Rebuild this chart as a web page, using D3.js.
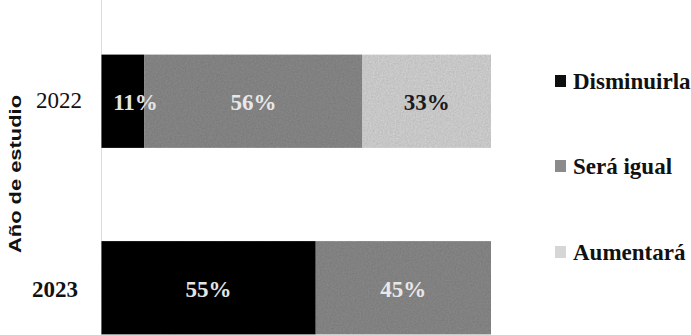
<!DOCTYPE html>
<html>
<head>
<meta charset="utf-8">
<script src="https://cdn.jsdelivr.net/npm/d3@7"></script>
<style>
  html, body { margin: 0; padding: 0; background: #fff; }
  svg { display: block; }
</style>
</head>
<body>
<svg id="chart" width="691" height="335"></svg>
<script>
// Expectation of change, by study year (shares of respondents)
const years = ["2022", "2023"];
const seriesNames = ["Disminuirla", "Será igual", "Aumentará"];
const disminuirla = [0.11, 0.55];
const seraIgual = [0.56, 0.45];
const aumentara = [0.33, 0.00];
const seriesColors = ["#0e0e0e", "#8b8b8b", "#d6d6d6"];
const labelColors = ["#e4e4e4", "#e8e8e8", "#1a1a1a"];

const values = [disminuirla, seraIgual, aumentara];
const rows = years.map((y, i) => {
  const r = { year: y };
  seriesNames.forEach((s, k) => { r[s] = values[k][i]; });
  return r;
});

const svg = d3.select("#chart");
const W = 691, H = 335;

const x = d3.scaleLinear().domain([0, 1]).range([101.5, 491]);
const y = d3.scaleBand().domain(years).range([8, 381])
  .paddingInner(0.5).paddingOuter(0.25);

const stack = d3.stack().keys(seriesNames)(rows);

// category axis line
svg.append("line")
  .attr("x1", x(0)).attr("x2", x(0))
  .attr("y1", 0).attr("y2", H)
  .attr("stroke", "#dcdcdc").attr("stroke-width", 1);

// grain for the fills
const defs = svg.append("defs");
const f = defs.append("filter").attr("id", "grain")
  .attr("x", 0).attr("y", 0).attr("width", 1).attr("height", 1);
f.append("feTurbulence").attr("type", "fractalNoise")
  .attr("baseFrequency", 0.6).attr("numOctaves", 2).attr("seed", 4)
  .attr("result", "noise");
f.append("feColorMatrix").attr("in", "noise").attr("type", "matrix")
  .attr("values", "0 0 0 0 0  0 0 0 0 0  0 0 0 0 0  0 0 0 0.3 0")
  .attr("result", "dots");
f.append("feComposite").attr("in", "dots").attr("in2", "SourceGraphic")
  .attr("operator", "in").attr("result", "dotsIn");
f.append("feMerge").selectAll("feMergeNode")
  .data(["SourceGraphic", "dotsIn"]).join("feMergeNode").attr("in", d => d);

const groups = svg.append("g").selectAll("g")
  .data(stack).join("g")
  .attr("fill", (d, i) => seriesColors[i]);

groups.selectAll("rect")
  .data(d => d.filter(p => p[1] - p[0] > 0))
  .join("rect")
  .attr("x", d => x(d[0]))
  .attr("width", d => x(d[1]) - x(d[0]))
  .attr("y", d => y(d.data.year))
  .attr("height", y.bandwidth())
  .attr("filter", "url(#grain)");

// value labels
const labelFont = "'Liberation Serif', 'DejaVu Serif', serif";
stack.forEach((layer, k) => {
  layer.forEach(p => {
    const v = p[1] - p[0];
    if (v <= 0) return;
    const txt = Math.round(v * 100) + "%";
    const lw = 48;
    let cx = (x(p[0]) + x(p[1])) / 2;
    cx = Math.max(cx, x(0) + lw / 2 + 10);
    svg.append("text")
      .attr("x", cx)
      .attr("y", y(p.data.year) + y.bandwidth() / 2 + 9)
      .attr("text-anchor", "middle")
      .attr("font-family", labelFont)
      .attr("font-weight", "bold")
      .attr("font-size", 23)
      .attr("fill", labelColors[k])
      .text(txt);
  });
});

// year tick labels
svg.append("g").selectAll("text")
  .data(years).join("text")
  .attr("x", (d, i) => i === 1 ? 78 : 82)
  .attr("y", (d, i) => y(d) + y.bandwidth() / 2 + (i === 1 ? 9 : 7))
  .attr("text-anchor", "end")
  .attr("font-family", labelFont)
  .attr("font-size", 23)
  .attr("font-weight", (d, i) => i === 1 ? "bold" : "normal")
  .attr("fill", "#111")
  .text(d => d);

// axis title
svg.append("text")
  .attr("transform", "translate(21,174) rotate(-90)")
  .attr("text-anchor", "middle")
  .attr("font-family", "'Liberation Sans', Arial, sans-serif")
  .attr("font-weight", "bold")
  .attr("font-size", 16)
  .attr("textLength", 158)
  .attr("lengthAdjust", "spacingAndGlyphs")
  .attr("fill", "#111")
  .text("Año de estudio");

// legend
const legendY = [81, 166, 252];
const lg = svg.append("g").selectAll("g")
  .data(seriesNames).join("g")
  .attr("transform", (d, i) => `translate(555,${legendY[i]})`);
lg.append("rect")
  .attr("x", 0).attr("y", -6).attr("width", 11).attr("height", 12)
  .attr("fill", (d, i) => seriesColors[i]);
lg.append("text")
  .attr("x", 18).attr("y", 8)
  .attr("font-family", labelFont)
  .attr("font-weight", "bold")
  .attr("font-size", 23)
  .attr("fill", "#111")
  .text(d => d);
</script>
</body>
</html>
